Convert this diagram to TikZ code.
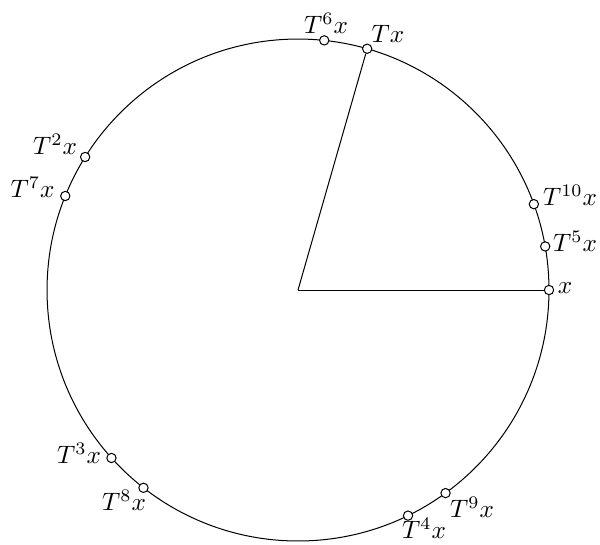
\documentclass[tikz,border=0pt]{standalone}
\begin{document}
\begin{tikzpicture}[x=0.013945cm, y=-0.013945cm,
  dot/.style={circle, draw, fill=white, inner sep=0pt, minimum size=3.7pt},
  lbl/.style={inner sep=0pt}]
\useasboundingbox (0,0) rectangle (600,544);
\coordinate (O) at (298,290);
\draw (O) circle[radius=3.5cm];
\foreach \k in {0,...,10}{
  \path (O) ++({-\k*74}:251) node[dot] (p\k) {};
}
\draw (O) -- (p0);
\draw (O) -- (p1);
\node[lbl] (l0) at (565,288) {$x$};
\node[lbl] (l1) at (388,34) {$Tx$};
\node[lbl] (l2) at (55,144) {$T^{2}x$};
\node[lbl] (l3) at (79,453) {$T^{3}x$};
\node[lbl] (l4) at (424,528) {$T^{4}x$};
\node[lbl] (l5) at (575,241) {$T^{5}x$};
\node[lbl] (l6) at (326,23) {$T^{6}x$};
\node[lbl] (l7) at (32.5,187) {$T^{7}x$};
\node[lbl] (l8) at (124,500) {$T^{8}x$};
\node[lbl] (l9) at (472,507) {$T^{9}x$};
\node[lbl] (l10) at (570,195) {$T^{10}x$};
\end{tikzpicture}
\end{document}
